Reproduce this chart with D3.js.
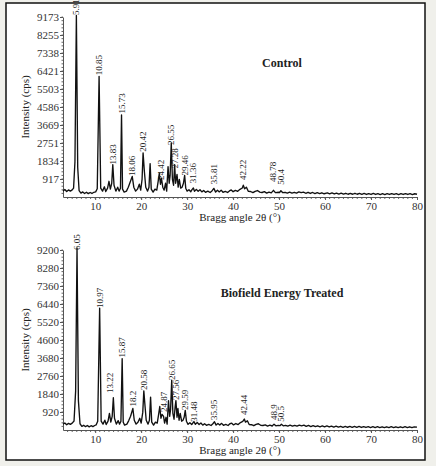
<!DOCTYPE html>
<html>
<head>
<meta charset="utf-8">
<script src="https://cdn.jsdelivr.net/npm/d3@7"></script>
<style>
  html, body { margin: 0; padding: 0; background: #f0f0eb; }
  svg { display: block; }
  text { font-family: "Liberation Serif", "Times New Roman", serif; fill: #222; }
  .axis path, .axis line { stroke: #555; }
  .axis text { fill: #333; }
  .trace { fill: none; stroke: #111; stroke-width: 1.35; stroke-linejoin: round; }
  .peak { font-size: 9px; }
  .title { font-size: 12px; font-weight: bold; }
</style>
</head>
<body>
<div id="display"></div>
<script>
// x axis (2 theta, degrees)
var braggTicks = [10, 20, 30, 40, 50, 60, 70, 80];

// y axis tick labels, cps
var controlTicks = [917, 1834, 2751, 3669, 4586, 5503, 6421, 7338, 8255, 9173];
var treatedTicks = [920, 1840, 2760, 3680, 4600, 5520, 6440, 7360, 8280, 9200];

// scans, [2theta, cps]
var controlScan = [
  [3, 300], [3.4, 380], [3.8, 280], [4.2, 360], [4.6, 300], [5, 360], [5.3, 450], [5.6, 1800],
  [5.91, 9250], [6.2, 1500], [6.5, 330], [6.9, 200], [7.3, 260], [7.7, 180], [8.1, 240],
  [8.5, 170], [8.9, 230], [9.3, 180], [9.7, 240], [10.1, 260], [10.45, 420], [10.85, 6150],
  [11.2, 450], [11.6, 300], [12, 520], [12.3, 280], [12.7, 450], [13, 800], [13.3, 400],
  [13.6, 700], [13.83, 1650], [14.1, 600], [14.5, 300], [14.9, 500], [15.2, 300], [15.5, 450],
  [15.73, 4180], [15.95, 400], [16.3, 250], [16.8, 300], [17.2, 500], [17.6, 750],
  [18.06, 1050], [18.4, 500], [18.8, 300], [19.2, 400], [19.6, 650], [19.9, 350], [20.2, 900],
  [20.42, 2250], [20.7, 1300], [21, 500], [21.4, 300], [21.7, 500], [21.95, 1700], [22.2, 400],
  [22.6, 250], [23, 400], [23.4, 350], [23.7, 800], [23.95, 1200], [24.2, 650], [24.42, 950],
  [24.7, 500], [25, 350], [25.3, 700], [25.55, 300], [25.85, 1550], [26.1, 700], [26.3, 1100],
  [26.55, 2750], [26.8, 900], [27.05, 600], [27.28, 1650], [27.5, 700], [27.8, 1150],
  [28.05, 500], [28.3, 900], [28.6, 450], [28.9, 500], [29.2, 700], [29.46, 1100], [29.7, 450],
  [30, 300], [30.4, 370], [30.8, 270], [31.1, 390], [31.36, 460], [31.6, 290], [32, 390],
  [32.4, 290], [32.8, 370], [33.2, 260], [33.6, 330], [34, 240], [34.5, 300], [35, 230],
  [35.4, 310], [35.81, 440], [36.2, 250], [36.6, 340], [37, 260], [37.4, 350], [37.8, 240],
  [38.3, 290], [38.8, 230], [39.2, 310], [39.6, 360], [40, 270], [40.5, 340], [41, 290],
  [41.5, 390], [42, 460], [42.22, 600], [42.5, 420], [42.9, 500], [43.3, 290], [43.8, 280],
  [44.3, 220], [44.8, 290], [45.3, 330], [45.8, 250], [46.3, 230], [46.8, 270], [47.3, 200],
  [47.8, 250], [48.3, 210], [48.78, 340], [49.2, 220], [49.7, 240], [50.1, 230], [50.4, 320],
  [50.8, 220], [51.3, 240], [51.8, 200], [52.3, 250], [52.8, 200], [53.3, 240], [53.8, 200],
  [54.3, 260], [54.8, 220], [55.3, 250], [55.8, 190], [56.3, 240], [56.8, 180], [57.3, 230],
  [57.8, 170], [58.3, 220], [58.8, 170], [59.3, 215], [59.8, 165], [60.5, 210], [61, 160],
  [61.5, 205], [62, 155], [62.5, 200], [63, 150], [63.5, 195], [64, 145], [64.5, 190],
  [65, 140], [65.5, 185], [66, 140], [66.5, 190], [67, 140], [67.5, 185], [68, 135],
  [68.5, 180], [69, 130], [69.5, 175], [70, 130], [70.5, 180], [71, 130], [71.5, 170],
  [72, 125], [72.5, 170], [73, 125], [73.5, 170], [74, 130], [74.5, 175], [75, 130],
  [75.5, 170], [76, 125], [76.5, 170], [77, 130], [77.5, 175], [78, 130], [78.5, 170],
  [79, 125], [79.5, 165], [80, 140]
];

var treatedScan = [
  [3, 290], [3.4, 360], [3.8, 270], [4.2, 340], [4.6, 290], [5, 350], [5.4, 460], [5.75, 2000],
  [6.05, 9300], [6.35, 1500], [6.7, 320], [7.1, 190], [7.5, 240], [7.9, 170], [8.3, 230],
  [8.7, 160], [9.1, 220], [9.5, 170], [9.9, 230], [10.2, 260], [10.55, 450], [10.97, 6230],
  [11.3, 450], [11.7, 300], [12.1, 500], [12.4, 280], [12.8, 450], [13.1, 850], [13.4, 400],
  [13.7, 700], [13.95, 1650], [14.2, 600], [14.6, 300], [15, 480], [15.3, 300], [15.6, 450],
  [15.87, 3650], [16.1, 400], [16.4, 250], [16.9, 300], [17.3, 480], [17.7, 700],
  [18.2, 1100], [18.5, 500], [18.9, 300], [19.3, 400], [19.7, 600], [20, 350], [20.35, 900],
  [20.58, 2000], [20.85, 1200], [21.1, 500], [21.5, 300], [21.8, 500], [22.05, 1680],
  [22.3, 400], [22.7, 250], [23.1, 400], [23.5, 350], [23.8, 800], [24.05, 1200], [24.3, 600],
  [24.55, 800], [24.87, 700], [25.1, 350], [25.4, 650], [25.65, 300], [25.95, 1500],
  [26.2, 700], [26.4, 1050], [26.65, 2550], [26.9, 850], [27.15, 550], [27.4, 1200],
  [27.56, 1500], [27.8, 650], [28, 1100], [28.25, 500], [28.5, 850], [28.8, 450], [29.1, 500],
  [29.35, 650], [29.59, 1000], [29.85, 450], [30.2, 290], [30.6, 370], [31, 280], [31.48, 430],
  [31.8, 290], [32.2, 380], [32.6, 280], [33, 360], [33.4, 250], [33.8, 320], [34.2, 240],
  [34.7, 290], [35.2, 230], [35.6, 320], [35.95, 420], [36.3, 250], [36.7, 330], [37.1, 250],
  [37.5, 340], [37.9, 240], [38.4, 290], [38.9, 230], [39.3, 320], [39.7, 350], [40.1, 260],
  [40.6, 330], [41.1, 280], [41.6, 380], [42.1, 440], [42.44, 560], [42.7, 400], [43.1, 470],
  [43.5, 280], [44, 270], [44.5, 220], [45, 290], [45.5, 320], [46, 240], [46.5, 230],
  [47, 260], [47.5, 200], [48, 245], [48.5, 205], [48.9, 300], [49.3, 215], [49.8, 235],
  [50.2, 220], [50.5, 290], [50.9, 215], [51.4, 240], [51.9, 195], [52.4, 245], [52.9, 195],
  [53.4, 240], [53.9, 195], [54.4, 250], [54.9, 215], [55.4, 245], [55.9, 185], [56.4, 235],
  [56.9, 175], [57.4, 225], [57.9, 170], [58.4, 215], [58.9, 165], [59.4, 210], [59.9, 160],
  [60.4, 205], [60.9, 155], [61.4, 200], [61.9, 150], [62.4, 195], [62.9, 145], [63.4, 190],
  [63.9, 140], [64.4, 185], [64.9, 140], [65.4, 180], [65.9, 135], [66.4, 185], [66.9, 135],
  [67.4, 180], [67.9, 130], [68.4, 175], [68.9, 130], [69.4, 170], [69.9, 125], [70.4, 175],
  [70.9, 125], [71.4, 170], [71.9, 125], [72.4, 165], [72.9, 120], [73.4, 165], [73.9, 125],
  [74.4, 170], [74.9, 125], [75.4, 165], [75.9, 120], [76.4, 165], [76.9, 125], [77.4, 170],
  [77.9, 125], [78.4, 165], [78.9, 120], [79.4, 160], [80, 145]
];

// peak labels: text, where it stands (2theta) and the cps level of its foot
var controlPeaks = ['5.91', '10.85', '13.83', '15.73', '18.06', '20.42', '24.42', '26.55',
  '27.28', '29.46', '31.36', '35.81', '42.22', '48.78', '50.4'];
var controlPeakLevel = [9280, 6200, 1650, 4250, 1070, 2300, 870, 2650, 1450, 1100, 700, 650,
  870, 770, 620];
var treatedPeaks = ['6.05', '10.97', '13.22', '15.87', '18.2', '20.58', '24.87', '26.65',
  '27.56', '29.59', '31.48', '35.95', '42.44', '48.9', '50.5'];
var treatedPeakLevel = [9200, 6230, 1890, 3700, 1200, 2040, 920, 2550, 1530, 1020, 420, 510,
  770, 510, 420];

var svg = d3.select('#display')
    .append('svg')
    .attr('width', 436)
    .attr('height', 466);

svg.append('rect')
    .attr('x', 6)
    .attr('y', 3)
    .attr('width', 419)
    .attr('height', 457)
    .attr('fill', '#fff')
    .attr('stroke', '#111')
    .attr('stroke-width', 1.5);

var x = d3.scaleLinear().domain([3, 80]).range([63, 417]);

function drawPanel(scan, ticks, peaks, levels, title, top, bottom) {
  var y = d3.scaleLinear().domain([0, ticks[ticks.length - 1]]).range([bottom, top]);
  var g = svg.append('g');

  // minor ticks
  var step = ticks[0] / 5;
  g.append('g').selectAll('line')
      .data(d3.range(step, ticks[ticks.length - 1] + 1, step))
      .enter().append('line')
      .attr('x1', x(3) - 1.5).attr('x2', x(3))
      .attr('y1', function (d) { return y(d); })
      .attr('y2', function (d) { return y(d); })
      .attr('stroke', '#666');
  g.append('g').selectAll('line')
      .data(d3.range(4, 80, 1))
      .enter().append('line')
      .attr('x1', function (d) { return x(d); })
      .attr('x2', function (d) { return x(d); })
      .attr('y1', bottom).attr('y2', bottom + 2)
      .attr('stroke', '#666');

  var xAxis = g.append('g')
      .attr('class', 'axis')
      .attr('transform', 'translate(0,' + bottom + ')')
      .call(d3.axisBottom(x).tickValues(braggTicks).tickSizeInner(3).tickSizeOuter(0).tickPadding(2));
  xAxis.selectAll('text').attr('font-size', 11).attr('font-family', '"Liberation Serif", serif');

  var yAxis = g.append('g')
      .attr('class', 'axis')
      .attr('transform', 'translate(' + x(3) + ',0)')
      .call(d3.axisLeft(y).tickValues(ticks).tickFormat(d3.format('d'))
        .tickSizeInner(3).tickSizeOuter(0).tickPadding(1));
  yAxis.selectAll('text').attr('font-size', 11).attr('font-family', '"Liberation Serif", serif');

  var line = d3.line()
      .x(function (d) { return x(d[0]); })
      .y(function (d) { return y(d[1]); });
  g.append('path')
      .datum(scan)
      .attr('class', 'trace')
      .attr('d', line);

  g.append('g').selectAll('text')
      .data(peaks)
      .enter().append('text')
      .attr('class', 'peak')
      .attr('transform', function (d) {
        return 'translate(' + x(+d) + ',' + y(levels[peaks.indexOf(d)]) + ') rotate(-90)';
      })
      .attr('dy', '0.33em')
      .text(function (d) { return d; });

  g.append('text')
      .attr('class', 'title')
      .attr('x', 282)
      .attr('y', top + (title == 'Control' ? 50 : 47))
      .attr('text-anchor', 'middle')
      .text(title);

  g.append('text')
      .attr('x', 240)
      .attr('y', bottom + 24)
      .attr('text-anchor', 'middle')
      .attr('font-size', 11)
      .text('Bragg angle 2\u03b8 (\u00b0)');

  g.append('text')
      .attr('transform', 'translate(29,' + (top + bottom) / 2 + ') rotate(-90)')
      .attr('text-anchor', 'middle')
      .attr('font-size', 11)
      .text('Intensity (cps)');
}

drawPanel(controlScan, controlTicks, controlPeaks, controlPeakLevel, 'Control', 17, 197);
drawPanel(treatedScan, treatedTicks, treatedPeaks, treatedPeakLevel, 'Biofield Energy Treated', 250, 430);
</script>
</body>
</html>
